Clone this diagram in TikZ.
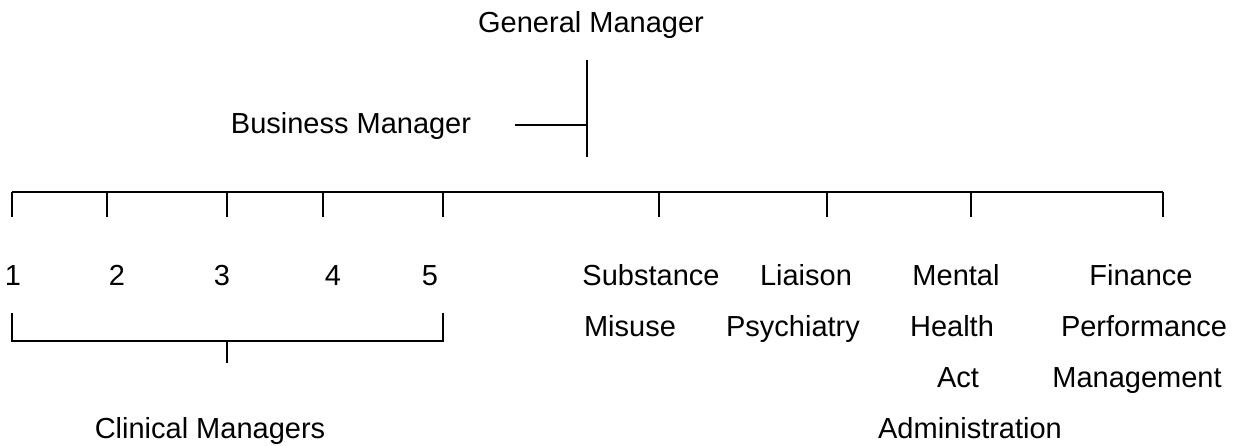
\documentclass[tikz,border=0pt]{standalone}
\usepackage{fontspec}
\setmainfont{Liberation Sans}
\begin{document}
\begin{tikzpicture}[x=0.5pt,y=-0.5pt,line width=1pt,
  lbl/.style={inner sep=0pt,anchor=base,font=\fontsize{14.5}{16}\selectfont}]
\useasboundingbox (0,0) rectangle (1247,445);

% top of the chart
\node[lbl] (gm) at (591,32) {General Manager};
\node[lbl] (bm) at (351,133) {Business Manager};
\coordinate (gmtop) at (587,60);
\coordinate (gmbot) at (587,157);
\coordinate (bmend) at (515,125);
\coordinate (bmjoin) at (587,125);
\draw (gmtop) -- (gmbot);
\draw (bmend) -- (bmjoin);

% main horizontal bar with its drop lines
\coordinate (barL) at (12,192);
\coordinate (barR) at (1163,192);
\draw (barL) -- (barR);
\foreach \x [count=\i] in {12,107,227,323,443,659,827,971,1163}{
  \coordinate (t\i) at (\x,192);
  \coordinate (d\i) at (\x,217);
  \draw (t\i) -- (d\i);
}

% clinical teams 1-5
\foreach \x/\t [count=\i] in {13/1,117/2,222/3,333/4,430/5}{
  \node[lbl] (n\i) at (\x,285) {\t};
}

% bracket grouping the clinical teams
\coordinate (brL0) at (12,313);
\coordinate (brL) at (12,341);
\coordinate (brR) at (443,341);
\coordinate (brR0) at (443,313);
\coordinate (brM) at (227,341);
\coordinate (brMd) at (227,363);
\draw (brL0) -- (brL) -- (brR) -- (brR0);
\draw (brM) -- (brMd);
\node[lbl] (cm) at (210,438) {Clinical Managers};

% service areas
\node[lbl] (sm1) at (651,285) {Substance};
\node[lbl] (sm2) at (630,336) {Misuse};
\node[lbl] (lp1) at (806,285) {Liaison};
\node[lbl] (lp2) at (793,336) {Psychiatry};
\node[lbl] (mh1) at (956,285) {Mental};
\node[lbl] (mh2) at (952,336) {Health};
\node[lbl] (mh3) at (958,387) {Act};
\node[lbl] (mh4) at (970,438) {Administration};
\node[lbl] (fp1) at (1141,285) {Finance};
\node[lbl] (fp2) at (1144,336) {Performance};
\node[lbl] (fp3) at (1137,387) {Management};
\end{tikzpicture}
\end{document}
